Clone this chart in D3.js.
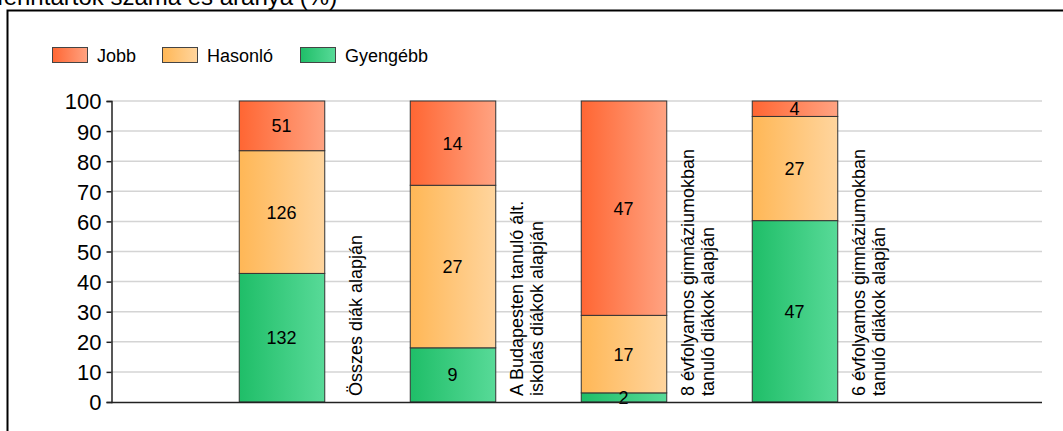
<!DOCTYPE html>
<html>
<head>
<meta charset="utf-8">
<script src="https://cdn.jsdelivr.net/npm/d3@7"></script>
<style>
  body { margin: 0; background: #fff; }
  svg { font-family: Arial, "Liberation Sans", sans-serif; display: block; }
</style>
</head>
<body>
<div id="chart"></div>
<script>
var svgWidth = 1063;
var svgHeight = 431;

// data
var categories = [
  ["Összes diák alapján"],
  ["A Budapesten tanuló ált.", "iskolás diákok alapján"],
  ["8 évfolyamos gimnáziumokban", "tanuló diákok alapján"],
  ["6 évfolyamos gimnáziumokban", "tanuló diákok alapján"]
];
var seriesNames = ["Gyengébb", "Hasonló", "Jobb"];
var gyengebb = [132, 9, 2, 47];
var hasonlo = [126, 27, 17, 27];
var jobb = [51, 14, 47, 4];
var yTicks = [0, 10, 20, 30, 40, 50, 60, 70, 80, 90, 100];

var colors = {
  "Jobb": ["#ff6633", "#ffa382"],
  "Hasonló": ["#ffb756", "#ffd59e"],
  "Gyengébb": ["#1fbe68", "#58da98"]
};

var rows = categories.map(function(c, i) {
  var total = gyengebb[i] + hasonlo[i] + jobb[i];
  return {
    key: i,
    label: c,
    counts: { "Gyengébb": gyengebb[i], "Hasonló": hasonlo[i], "Jobb": jobb[i] },
    "Gyengébb": gyengebb[i] / total * 100,
    "Hasonló": hasonlo[i] / total * 100,
    "Jobb": jobb[i] / total * 100
  };
});

var svg = d3.select("#chart")
  .append("svg")
  .attr("width", svgWidth)
  .attr("height", svgHeight);

// gradients
var defs = svg.append("defs");
Object.keys(colors).forEach(function(name, i) {
  var g = defs.append("linearGradient")
    .attr("id", "grad" + i)
    .attr("x1", "0%").attr("x2", "100%")
    .attr("y1", "0%").attr("y2", "0%");
  g.append("stop").attr("offset", "0%").attr("stop-color", colors[name][0]);
  g.append("stop").attr("offset", "100%").attr("stop-color", colors[name][1]);
});
function gradId(name) { return "url(#grad" + Object.keys(colors).indexOf(name) + ")"; }

// title (clipped at top like the original)
svg.append("text")
  .attr("x", -3)
  .attr("y", 5)
  .style("font-size", "24px")
  .attr("fill", "#000")
  .text("fenntartók száma és aránya (%)");

// frame
svg.append("rect")
  .attr("x", 7.5)
  .attr("y", 10.5)
  .attr("width", 1100)
  .attr("height", 500)
  .attr("fill", "none")
  .attr("stroke", "#000")
  .attr("stroke-width", 2);

// legend
var legendItems = ["Jobb", "Hasonló", "Gyengébb"];
var legendX = [52, 162, 300];
var legend = svg.append("g");
legendItems.forEach(function(name, i) {
  legend.append("rect")
    .attr("x", legendX[i] + 0.5)
    .attr("y", 47.5)
    .attr("width", 35)
    .attr("height", 15)
    .attr("fill", gradId(name))
    .attr("stroke", "#444")
    .attr("stroke-width", 1);
  legend.append("text")
    .attr("x", legendX[i] + 45)
    .attr("y", 61.5)
    .style("font-size", "18px")
    .text(name);
});

// scales
var plotLeft = 111, plotRight = 1042, plotTop = 101, plotBottom = 402;

var x = d3.scaleBand()
  .domain(rows.map(function(d) { return d.key; }))
  .range([196, 880])
  .paddingInner(0.5)
  .paddingOuter(0.25);

var y = d3.scaleLinear()
  .domain([0, 100])
  .range([plotBottom, plotTop]);

// gridlines
svg.append("g")
  .selectAll("line")
  .data(yTicks.slice(1))
  .enter()
  .append("line")
  .attr("x1", plotLeft)
  .attr("x2", plotRight)
  .attr("y1", function(d) { return y(d); })
  .attr("y2", function(d) { return y(d); })
  .attr("stroke", "#d4d4d4")
  .attr("stroke-width", 1.5);

// y axis
var leftAxis = d3.axisLeft(y).tickValues(yTicks).tickSize(5).tickPadding(5);
var yAxisG = svg.append("g")
  .attr("transform", "translate(" + (plotLeft + 0.5) + ",0)")
  .call(leftAxis);
yAxisG.select(".domain").attr("stroke", "#222").attr("stroke-width", 1.5);
yAxisG.selectAll(".tick line").attr("stroke", "#222").attr("stroke-width", 1.5);
yAxisG.selectAll(".tick text")
  .style("font-size", "22px")
  .style("font-family", "Arial, 'Liberation Sans', sans-serif")
  .attr("fill", "#000")
  .attr("dy", "0.36em");

// stacked bars
var stack = d3.stack().keys(seriesNames);
var stacked = stack(rows);

var layers = svg.append("g")
  .selectAll("g")
  .data(stacked)
  .enter()
  .append("g")
  .attr("fill", function(d) { return gradId(d.key); });

layers.selectAll("rect")
  .data(function(d) { return d; })
  .enter()
  .append("rect")
  .attr("x", function(d) { return x(d.data.key) + 0.5; })
  .attr("y", function(d) { return y(d[1]); })
  .attr("width", x.bandwidth())
  .attr("height", function(d) { return y(d[0]) - y(d[1]); })
  .attr("stroke", "#333")
  .attr("stroke-width", 1);

// value labels
stacked.forEach(function(layer) {
  svg.append("g")
    .selectAll("text")
    .data(layer)
    .enter()
    .append("text")
    .attr("x", function(d) { return x(d.data.key) + x.bandwidth() / 2; })
    .attr("y", function(d) { return (y(d[0]) + y(d[1])) / 2; })
    .attr("dy", "0.36em")
    .attr("text-anchor", "middle")
    .style("font-size", "18px")
    .text(function(d) { return d.data.counts[layer.key]; });
});

// x axis line
svg.append("line")
  .attr("x1", plotLeft)
  .attr("x2", plotRight)
  .attr("y1", plotBottom + 0.5)
  .attr("y2", plotBottom + 0.5)
  .attr("stroke", "#222")
  .attr("stroke-width", 1.5);

// category labels (rotated, to the right of each bar)
rows.forEach(function(d) {
  var lines = d.label;
  var cx = x(d.key) + x.bandwidth() + 31;
  var lineH = 20;
  var t = svg.append("text")
    .attr("transform", "translate(" + cx + "," + 396 + ") rotate(-90)")
    .style("font-size", "18px");
  lines.forEach(function(line, j) {
    t.append("tspan")
      .attr("x", 0)
      .attr("y", (j - (lines.length - 1) / 2) * lineH)
      .attr("dy", "0.36em")
      .text(line);
  });
});
</script>
</body>
</html>
